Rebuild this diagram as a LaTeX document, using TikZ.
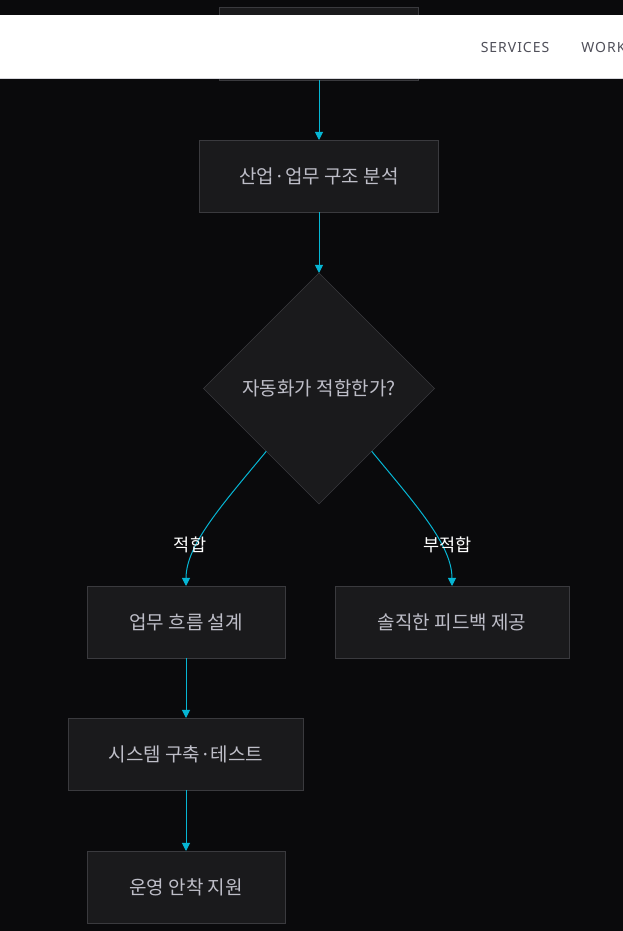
\documentclass[tikz,border=0pt]{standalone}
\usepackage{fontspec}
\setmainfont{Noto Sans CJK KR}
\newfontfamily\navfont[LetterSpace=7]{Noto Sans}
\usetikzlibrary{arrows.meta,positioning,shapes.geometric}
\definecolor{PageBg}{RGB}{10,10,12}
\definecolor{BoxFill}{RGB}{26,26,28}
\definecolor{BoxLine}{RGB}{58,58,62}
\definecolor{BoxText}{RGB}{190,190,200}
\definecolor{FlowCyan}{RGB}{6,182,212}
\definecolor{NavText}{RGB}{80,80,90}
\definecolor{NavLine}{RGB}{215,215,220}

\begin{document}
\begin{tikzpicture}[x=1pt,y=1pt,node distance=60pt, every node/.style={font=\fontsize{19}{22}\selectfont,align=center,outer sep=0pt},
box/.style={draw=BoxLine,fill=BoxFill,text=BoxText,minimum height=72pt,inner sep=0pt},
check/.style={diamond,aspect=1,draw=BoxLine,fill=BoxFill,text=BoxText,minimum size=231pt,inner sep=0pt},
arrow/.style={draw=FlowCyan,line width=1pt,-{Triangle[length=8pt,width=8pt]}},
elabel/.style={text=white,font=\fontsize{17.5}{20}\selectfont},
navlink/.style={text=NavText,font=\navfont\fontsize{14}{17}\selectfont}]
\fill[PageBg] (0,0) rectangle (623,931);
\useasboundingbox (0,0) rectangle (623,931);
\node[box,minimum width=199pt,minimum height=73pt] (start) at (319,887.5) {};
\node[box,minimum width=239pt,below=of start] (analysis) {산업·업무 구조 분석};
\node[check,below=61pt of analysis] (fitcheck) {자동화가 적합한가?};
\node[box,minimum width=198pt,below=82pt of fitcheck,xshift=-133pt] (design) {업무 흐름 설계};
\node[box,minimum width=234pt,below=82pt of fitcheck,xshift=133pt] (feedback) {솔직한 피드백 제공};
\node[box,minimum width=235pt,below=of design] (build) {시스템 구축·테스트};
\node[box,minimum width=198pt,below=61pt of build] (settle) {운영 안착 지원};
% header bar over the top box
\fill[white] (0,852) rectangle (623,916);
\draw[NavLine] (0,852.5) -- (623,852.5);
\node[navlink] (services) at (515,883) {SERVICES};
\node[navlink,anchor=west] (work) at (578,883) {WORK};
\draw[arrow] (start) -- (analysis);
\draw[arrow] (analysis) -- (fitcheck);
\draw[arrow] (fitcheck.-130) .. controls (222,426) and (186,386) .. node[elabel,pos=0.665,xshift=-7pt] (yes) {적합} (design.north);
\draw[arrow] (fitcheck.-50) .. controls (416,426) and (452,386) .. node[elabel,pos=0.665,xshift=7pt] (no) {부적합} (feedback.north);
\draw[arrow] (design) -- (build);
\draw[arrow] (build) -- (settle);
\end{tikzpicture}
\end{document}
